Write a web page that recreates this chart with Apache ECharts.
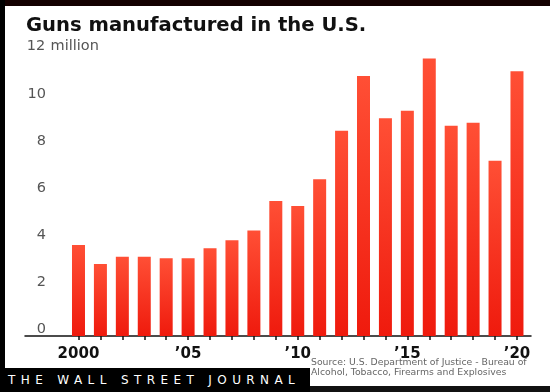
<!DOCTYPE html>
<html>
<head>
<meta charset="utf-8">
<script src="https://cdn.jsdelivr.net/npm/echarts@6/dist/echarts.min.js"></script>
<style>
  html, body { margin: 0; padding: 0; background: #000; }
  #wrap { position: relative; width: 550px; height: 392px; overflow: hidden; }
  #chart { position: absolute; left: 0; top: 0; width: 550px; height: 392px; background: #fff; }
  .frame { position: absolute; }
  #band { position: absolute; left: 0; top: 368px; width: 310px; height: 24px; background: #000;
          color: #fff; font-family: "DejaVu Sans", sans-serif; font-size: 12px; letter-spacing: 5.4px;
          line-height: 24px; padding-left: 8px; box-sizing: border-box; white-space: nowrap; overflow: hidden; }
</style>
</head>
<body>
<div id="wrap">
  <div id="chart"></div>
  <div class="frame" style="left:0;top:0;width:550px;height:6px;background:#140000"></div>
  <div class="frame" style="left:0;top:0;width:5px;height:392px;background:#000"></div>
  <div class="frame" style="left:0;top:386px;width:550px;height:6px;background:#111"></div>
  <div id="band">THE WALL STREET JOURNAL</div>
</div>
<script>
// Data (millions of guns)
var years = [2000, 2001, 2002, 2003, 2004, 2005, 2006, 2007, 2008, 2009, 2010,
             2011, 2012, 2013, 2014, 2015, 2016, 2017, 2018, 2019, 2020];
var guns = [3.86, 3.05, 3.36, 3.36, 3.30, 3.30, 3.72, 4.06, 4.48, 5.73, 5.52,
            6.65, 8.71, 11.03, 9.24, 9.56, 11.77, 8.92, 9.05, 7.44, 11.23];
var labelYears = [2000, 2005, 2010, 2015, 2020];
var labelTexts = ['2000', '\u201905', '\u201910', '\u201915', '\u201920'];
var yTicks = [0, 2, 4, 6, 8, 10, 12];

var chart = echarts.init(document.getElementById('chart'), null, { renderer: 'canvas' });

var barData = years.map(function (y, i) { return [y, guns[i]]; });

var option = {
  animation: false,
  backgroundColor: '#fff',
  title: [
    {
      text: 'Guns manufactured in the U.S.',
      left: 26, top: 16, padding: 0,
      textStyle: { fontFamily: 'DejaVu Sans', fontWeight: 'bold', fontSize: 19.6, color: '#111' }
    },
    {
      text: 'Source: U.S. Department of Justice - Bureau of\nAlcohol, Tobacco, Firearms and Explosives',
      left: 311, top: 358, padding: 0,
      textStyle: { fontFamily: 'DejaVu Sans', fontWeight: 'normal', fontSize: 9.3, lineHeight: 9.5, color: '#666' }
    }
  ],
  grid: { left: 25, right: 19, top: 53.2, bottom: 56, containLabel: false },
  xAxis: {
    type: 'value',
    min: 1997.56,
    max: 2020.64,
    axisLine: { show: true, onZero: false, lineStyle: { color: '#111', width: 1.5 } },
    axisTick: { show: true, customValues: years, length: 4, lineStyle: { color: '#111', width: 1.5 } },
    axisLabel: {
      customValues: labelYears,
      margin: 11,
      fontFamily: 'DejaVu Sans', fontWeight: 'bold', fontSize: 15, color: '#111',
      formatter: function (v) {
        var idx = labelYears.indexOf(Math.round(v));
        return idx >= 0 ? labelTexts[idx] : '';
      }
    },
    splitLine: { show: false }
  },
  yAxis: {
    type: 'value',
    min: yTicks[0],
    max: yTicks[yTicks.length - 1],
    interval: 2,
    axisLine: { show: false },
    axisTick: { show: false },
    splitLine: { show: false },
    axisLabel: {
      inside: true,
      margin: 1,
      verticalAlign: 'middle',
      padding: [0, 0, 13, 0],
      fontFamily: 'DejaVu Sans', fontSize: 14.5, color: '#555',
      formatter: function (v) {
        if (v === yTicks[yTicks.length - 1]) return '{n|' + v + '}{m| million}';
        return '{n|' + v + '}';
      },
      rich: {
        n: { width: 20, align: 'right', fontFamily: 'DejaVu Sans', fontSize: 14.5, color: '#555' },
        m: { fontFamily: 'DejaVu Sans', fontSize: 14.5, color: '#555' }
      }
    }
  },
  series: [{
    type: 'bar',
    data: barData,
    barWidth: 13,
    itemStyle: {
      color: new echarts.graphic.LinearGradient(0, 0, 0, 1, [
        { offset: 0, color: '#ff4f35' },
        { offset: 1, color: '#ef1a0d' }
      ])
    }
  }]
};
chart.setOption(option);
</script>
</body>
</html>
